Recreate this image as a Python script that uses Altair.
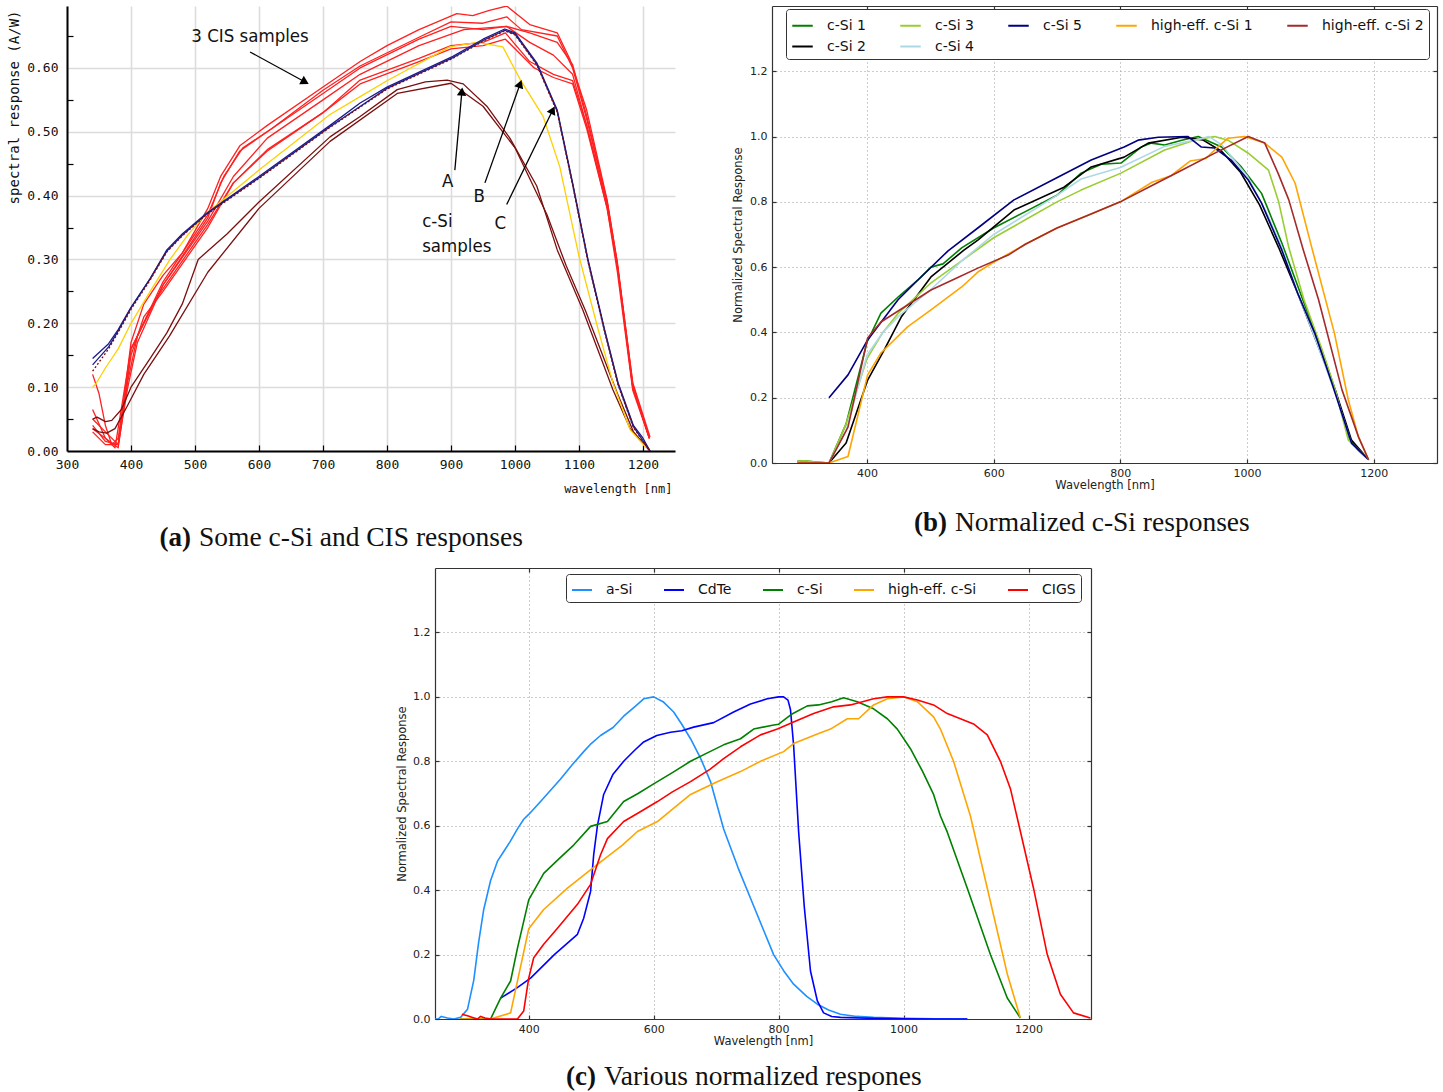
import altair as alt
import pandas as pd

# ======================= panel (a): absolute spectral responses =======================
A_CIS1_WL = [340, 350, 360, 370, 380, 390, 400, 420, 450, 480, 520, 540, 570, 613, 700, 758, 800, 850, 909, 934, 960, 987, 1023, 1066, 1086, 1112, 1144, 1159, 1184, 1211]
A_CIS1_SR = [0.12, 0.09, 0.04, 0.01, 0.02, 0.09, 0.17, 0.23, 0.275, 0.31, 0.38, 0.43, 0.478, 0.51, 0.57, 0.61, 0.635, 0.66, 0.685, 0.682, 0.69, 0.697, 0.668, 0.655, 0.613, 0.534, 0.393, 0.30, 0.107, 0.022]
A_CIS2_WL = [340, 360, 380, 395, 410, 450, 520, 545, 575, 620, 700, 758, 850, 900, 950, 987, 1010, 1066, 1090, 1112, 1144, 1160, 1184, 1210]
A_CIS2_SR = [0.065, 0.02, 0.005, 0.11, 0.18, 0.265, 0.37, 0.43, 0.475, 0.505, 0.565, 0.603, 0.648, 0.672, 0.67, 0.68, 0.66, 0.65, 0.60, 0.52, 0.39, 0.29, 0.10, 0.02]
A_CIS3_WL = [340, 360, 380, 395, 410, 450, 520, 540, 570, 613, 700, 758, 850, 900, 950, 987, 1023, 1060, 1090, 1112, 1144, 1160, 1184, 1210]
A_CIS3_SR = [0.04, 0.015, 0.01, 0.10, 0.17, 0.26, 0.365, 0.42, 0.47, 0.50, 0.56, 0.60, 0.645, 0.665, 0.66, 0.665, 0.64, 0.62, 0.59, 0.51, 0.38, 0.29, 0.10, 0.02]
A_CIS4_WL = [340, 360, 380, 400, 420, 450, 520, 560, 613, 700, 758, 850, 900, 950, 985, 1023, 1060, 1090, 1112, 1144, 1160, 1184, 1210]
A_CIS4_SR = [0.03, 0.01, 0.01, 0.15, 0.21, 0.25, 0.35, 0.42, 0.472, 0.53, 0.581, 0.615, 0.635, 0.64, 0.655, 0.61, 0.59, 0.58, 0.51, 0.385, 0.29, 0.10, 0.02]
A_CIS5_WL = [340, 360, 375, 400, 440, 520, 560, 613, 700, 758, 850, 900, 950, 985, 1000, 1030, 1060, 1090, 1112, 1144, 1160, 1184, 1210]
A_CIS5_SR = [0.035, 0.02, 0.005, 0.16, 0.24, 0.355, 0.42, 0.47, 0.53, 0.575, 0.61, 0.63, 0.635, 0.645, 0.63, 0.60, 0.585, 0.575, 0.505, 0.38, 0.28, 0.095, 0.02]
A_CIS6_WL = [340, 360, 380, 400, 450, 520, 560, 613, 700, 758, 850, 920, 987, 1023, 1066, 1090, 1112, 1144, 1160, 1184, 1210]
A_CIS6_SR = [0.05, 0.03, 0.01, 0.16, 0.26, 0.36, 0.43, 0.49, 0.55, 0.59, 0.635, 0.66, 0.665, 0.655, 0.64, 0.605, 0.525, 0.39, 0.295, 0.105, 0.02]
A_SA1_WL = [340, 347, 360, 370, 385, 400, 430, 456, 480, 505, 550, 600, 711, 758, 816, 860, 894, 919, 956, 992, 1034, 1066, 1106, 1153, 1180, 1211]
A_SA1_SR = [0.05, 0.053, 0.046, 0.048, 0.065, 0.10, 0.145, 0.185, 0.23, 0.30, 0.34, 0.39, 0.492, 0.524, 0.566, 0.578, 0.581, 0.575, 0.54, 0.49, 0.415, 0.315, 0.221, 0.096, 0.035, 0.0]
A_SA2_WL = [340, 350, 362, 375, 394, 420, 460, 520, 600, 711, 816, 900, 950, 1000, 1050, 1080, 1110, 1160, 1185, 1211]
A_SA2_SR = [0.035, 0.03, 0.028, 0.035, 0.07, 0.12, 0.18, 0.28, 0.38, 0.485, 0.56, 0.576, 0.54, 0.475, 0.37, 0.29, 0.22, 0.09, 0.03, 0.0]
A_SB_WL = [340, 345, 360, 380, 400, 430, 461, 490, 519, 600, 711, 758, 800, 898, 941, 981, 1008, 1044, 1070, 1100, 1130, 1153, 1180, 1205]
A_SB_SR = [0.10, 0.105, 0.13, 0.16, 0.20, 0.25, 0.30, 0.34, 0.373, 0.44, 0.527, 0.555, 0.58, 0.633, 0.64, 0.633, 0.582, 0.524, 0.445, 0.305, 0.19, 0.107, 0.033, 0.005]
A_SC1_WL = [340, 365, 380, 400, 430, 456, 480, 519, 600, 711, 758, 800, 903, 950, 984, 1000, 1034, 1066, 1090, 1114, 1140, 1161, 1185, 1200, 1211]
A_SC1_SR = [0.145, 0.168, 0.19, 0.225, 0.27, 0.315, 0.34, 0.373, 0.43, 0.51, 0.545, 0.57, 0.618, 0.645, 0.661, 0.655, 0.608, 0.534, 0.42, 0.30, 0.19, 0.107, 0.04, 0.02, 0.0]
A_SC2_WL = [340, 365, 380, 400, 430, 456, 480, 519, 600, 711, 800, 903, 950, 984, 1000, 1034, 1066, 1090, 1114, 1140, 1161, 1185, 1211]
A_SC2_SR = [0.135, 0.163, 0.188, 0.224, 0.27, 0.313, 0.338, 0.372, 0.428, 0.508, 0.568, 0.616, 0.643, 0.659, 0.653, 0.606, 0.532, 0.418, 0.298, 0.188, 0.105, 0.038, 0.0]
A_SC3_WL = [340, 365, 380, 400, 430, 456, 480, 519, 600, 711, 800, 903, 950, 984, 1000, 1034, 1066, 1090, 1114, 1140, 1161, 1185, 1211]
A_SC3_SR = [0.125, 0.16, 0.186, 0.222, 0.268, 0.312, 0.337, 0.371, 0.427, 0.507, 0.567, 0.615, 0.642, 0.658, 0.652, 0.605, 0.531, 0.417, 0.297, 0.187, 0.104, 0.037, 0.0]

A_SERIES = ["CIS 1", "CIS 2", "CIS 3", "CIS 4", "CIS 5", "CIS 6", "A 1", "A 2", "B", "C 1", "C 2"]
A_COLORS = ["#ff2020", "#ff2020", "#ff2020", "#ff2020", "#ff2020", "#ff2020", "#7a0f0f", "#7a0f0f", "#ffd000", "#1c1c8e", "#1c1c8e"]
A_WIDTHS = [1.3, 1.3, 1.3, 1.3, 1.3, 1.3, 1.8, 1.8, 2.6, 2.0, 1.6]

A_X_TICKS = [300, 400, 500, 600, 700, 800, 900, 1000, 1100, 1200]
A_Y_TICKS = [0.0, 0.1, 0.2, 0.3, 0.4, 0.5, 0.6]
A_Y_MINOR = [0.05, 0.15, 0.25, 0.35, 0.45, 0.55, 0.65]

A_LABELS = ["3 CIS samples", "A", "B", "C", "c-Si", "samples"]
A_LABEL_WL = [586, 895, 944, 977, 855, 855]
A_LABEL_SR = [0.650, 0.423, 0.400, 0.357, 0.360, 0.321]
A_LABEL_ALIGN = ["center", "center", "center", "center", "left", "left"]

A_ARROW_WL = [586, 906, 953, 987]
A_ARROW_SR = [0.625, 0.440, 0.420, 0.386]
A_ARROW_WL2 = [672, 917, 1008, 1059]
A_ARROW_SR2 = [0.578, 0.563, 0.575, 0.534]
A_ARROW_ANGLE = [119, 5, 20, 26]

# ======================= panel (b): normalized c-Si responses =======================
B_CSI1_WL = [290, 300, 320, 340, 367, 400, 422, 450, 480, 501, 520, 550, 600, 650, 700, 738, 770, 801, 833, 849, 870, 897, 923, 960, 991, 1023, 1055, 1090, 1118, 1140, 1160, 1175, 1192]
B_CSI1_NR = [0.005, 0.007, 0.003, 0.0, 0.12, 0.37, 0.459, 0.51, 0.56, 0.60, 0.61, 0.66, 0.72, 0.77, 0.82, 0.888, 0.915, 0.919, 0.968, 0.98, 0.974, 0.989, 1.0, 0.968, 0.907, 0.826, 0.674, 0.49, 0.346, 0.22, 0.08, 0.04, 0.01]
B_CSI2_WL = [340, 367, 401, 427, 454, 501, 553, 575, 632, 711, 754, 806, 844, 897, 930, 960, 990, 1020, 1050, 1080, 1110, 1140, 1165, 1192]
B_CSI2_NR = [0.0, 0.061, 0.254, 0.346, 0.447, 0.57, 0.652, 0.683, 0.775, 0.845, 0.907, 0.937, 0.98, 0.998, 0.99, 0.955, 0.89, 0.79, 0.66, 0.52, 0.37, 0.22, 0.07, 0.01]
B_CSI3_WL = [290, 300, 320, 340, 367, 400, 425, 450, 500, 550, 600, 650, 700, 738, 801, 870, 917, 949, 970, 1002, 1034, 1050, 1066, 1090, 1118, 1140, 1160, 1192]
B_CSI3_NR = [0.005, 0.007, 0.003, 0.0, 0.12, 0.32, 0.40, 0.46, 0.55, 0.62, 0.69, 0.745, 0.80, 0.836, 0.888, 0.959, 0.989, 1.0, 0.989, 0.949, 0.897, 0.80, 0.66, 0.50, 0.35, 0.22, 0.07, 0.01]
B_CSI4_WL = [340, 367, 400, 425, 450, 500, 550, 600, 700, 738, 800, 870, 920, 940, 960, 1000, 1030, 1055, 1080, 1110, 1140, 1165, 1192]
B_CSI4_NR = [0.0, 0.10, 0.33, 0.40, 0.45, 0.53, 0.62, 0.70, 0.82, 0.87, 0.905, 0.97, 0.99, 1.0, 0.975, 0.88, 0.77, 0.66, 0.52, 0.37, 0.21, 0.06, 0.01]
B_CSI5_WL = [340, 370, 401, 449, 480, 528, 577, 632, 702, 754, 806, 828, 860, 907, 928, 949, 975, 1002, 1023, 1055, 1080, 1107, 1134, 1165, 1192]
B_CSI5_NR = [0.20, 0.27, 0.377, 0.50, 0.56, 0.65, 0.723, 0.806, 0.876, 0.928, 0.968, 0.989, 0.998, 1.0, 0.968, 0.965, 0.928, 0.867, 0.796, 0.652, 0.52, 0.398, 0.245, 0.061, 0.01]
B_HE1_WL = [290, 340, 370, 401, 422, 464, 501, 550, 575, 600, 650, 700, 750, 800, 850, 880, 910, 935, 949, 970, 996, 1028, 1055, 1076, 1102, 1138, 1160, 1176, 1192]
B_HE1_NR = [0.0, 0.0, 0.02, 0.27, 0.337, 0.417, 0.469, 0.54, 0.585, 0.615, 0.67, 0.72, 0.76, 0.80, 0.86, 0.88, 0.925, 0.933, 0.959, 0.995, 1.0, 0.98, 0.937, 0.857, 0.662, 0.398, 0.193, 0.08, 0.01]
B_HE2_WL = [290, 340, 370, 401, 422, 464, 501, 540, 575, 623, 650, 700, 750, 800, 850, 900, 950, 1002, 1028, 1049, 1066, 1089, 1113, 1150, 1176, 1192]
B_HE2_NR = [0.0, 0.0, 0.11, 0.383, 0.432, 0.484, 0.53, 0.565, 0.597, 0.637, 0.67, 0.72, 0.76, 0.80, 0.85, 0.90, 0.95, 1.0, 0.98, 0.888, 0.806, 0.652, 0.50, 0.224, 0.08, 0.01]

# legend order arranged so that rows read like the column-major legend of the original
B_ORDER = ["c-Si 1", "c-Si 3", "c-Si 5", "high-eff. c-Si 1", "high-eff. c-Si 2", "c-Si 2", "c-Si 4"]
B_COLORS = ["#008000", "#9acd32", "#000080", "#ffa500", "#a52a2a", "#000000", "#add8e6"]

# ======================= panel (c): various normalized responses =======================
C_ASI_WL = [250, 255, 260, 270, 280, 291, 302, 312, 320, 328, 339, 350, 360, 370, 382, 392, 400, 419, 435, 451, 470, 488, 500, 515, 535, 552, 570, 584, 600, 615, 632, 645, 659, 675, 691, 712, 735, 755, 775, 792, 808, 824, 845, 862, 880, 899, 925, 952, 1000, 1050, 1102]
C_ASI_NR = [0.0, 0.0, 0.008, 0.003, 0.0, 0.005, 0.03, 0.12, 0.24, 0.34, 0.43, 0.49, 0.52, 0.55, 0.59, 0.62, 0.635, 0.675, 0.71, 0.745, 0.79, 0.83, 0.855, 0.88, 0.905, 0.94, 0.97, 0.994, 1.0, 0.985, 0.953, 0.915, 0.87, 0.81, 0.737, 0.59, 0.47, 0.375, 0.28, 0.20, 0.15, 0.108, 0.07, 0.046, 0.028, 0.015, 0.008, 0.005, 0.002, 0.001, 0.0]
C_CDTE_WL = [355, 380, 403, 441, 478, 488, 499, 504, 510, 520, 535, 552, 570, 584, 605, 627, 645, 664, 696, 728, 755, 782, 800, 808, 815, 819, 824, 832, 841, 851, 862, 872, 885, 899, 950, 1000, 1050, 1102]
C_CDTE_NR = [0.065, 0.095, 0.127, 0.20, 0.263, 0.313, 0.396, 0.51, 0.60, 0.697, 0.76, 0.80, 0.835, 0.86, 0.88, 0.89, 0.895, 0.906, 0.92, 0.953, 0.978, 0.994, 1.0, 1.0, 0.99, 0.96, 0.85, 0.582, 0.35, 0.149, 0.056, 0.019, 0.008, 0.005, 0.002, 0.001, 0.0, 0.0]
C_CSI_WL = [290, 300, 339, 355, 371, 382, 400, 424, 450, 472, 499, 526, 552, 575, 600, 630, 659, 690, 712, 739, 760, 790, 800, 820, 846, 864, 885, 904, 926, 952, 974, 990, 1011, 1030, 1048, 1059, 1070, 1102, 1139, 1166, 1187]
C_CSI_NR = [0.0, 0.0, 0.0, 0.065, 0.118, 0.22, 0.37, 0.452, 0.50, 0.54, 0.598, 0.613, 0.675, 0.70, 0.73, 0.765, 0.80, 0.83, 0.851, 0.87, 0.90, 0.912, 0.915, 0.945, 0.972, 0.975, 0.985, 0.997, 0.985, 0.963, 0.932, 0.90, 0.839, 0.77, 0.697, 0.63, 0.58, 0.406, 0.20, 0.065, 0.003]
C_HE_WL = [290, 339, 371, 400, 424, 462, 510, 550, 574, 606, 659, 700, 739, 771, 808, 824, 862, 883, 910, 928, 952, 974, 1000, 1022, 1048, 1059, 1080, 1107, 1134, 1166, 1187]
C_HE_NR = [0.0, 0.0, 0.019, 0.28, 0.34, 0.406, 0.48, 0.54, 0.582, 0.613, 0.697, 0.735, 0.768, 0.80, 0.83, 0.855, 0.885, 0.90, 0.932, 0.932, 0.975, 0.994, 1.0, 0.985, 0.938, 0.90, 0.80, 0.63, 0.406, 0.14, 0.003]
C_CIGS_WL = [293, 302, 310, 318, 323, 330, 340, 360, 382, 392, 400, 408, 424, 446, 478, 499, 515, 526, 552, 580, 606, 630, 659, 690, 712, 739, 771, 798, 824, 856, 888, 915, 952, 974, 1000, 1022, 1048, 1070, 1091, 1112, 1134, 1155, 1171, 1187, 1208, 1230, 1251, 1272, 1299]
C_CIGS_NR = [0.015, 0.01, 0.005, 0.0, 0.008, 0.003, 0.0, 0.0, 0.0, 0.025, 0.127, 0.19, 0.232, 0.282, 0.356, 0.418, 0.51, 0.56, 0.613, 0.645, 0.675, 0.705, 0.737, 0.775, 0.808, 0.845, 0.882, 0.90, 0.922, 0.948, 0.969, 0.975, 0.994, 1.0, 1.0, 0.99, 0.975, 0.948, 0.932, 0.916, 0.882, 0.80, 0.715, 0.582, 0.406, 0.20, 0.077, 0.019, 0.003]

C_ORDER = ["a-Si", "CdTe", "c-Si", "high-eff. c-Si", "CIGS"]
C_COLORS = ["#1e90ff", "#0000ff", "#008000", "#ffa500", "#ff0000"]

NORM_X_TICKS = [400, 600, 800, 1000, 1200]
NORM_Y_TICKS = [0.0, 0.2, 0.4, 0.6, 0.8, 1.0, 1.2]

CAPTIONS_BOLD = ["(a)", "(b)", "(c)"]
CAPTIONS_TEXT = ["Some c-Si and CIS responses", "Normalized c-Si responses", "Various normalized respones"]

# ======================= helpers =======================
MONO = "DejaVu Sans Mono"
SANS = "DejaVu Sans"
SERIF = "Liberation Serif"
NARROW = "Liberation Sans Narrow, DejaVu Sans Condensed, Liberation Sans"


def long_df(pairs, key):
    rows = []
    for name, xs, ys in pairs:
        for i, (x, y) in enumerate(zip(xs, ys)):
            rows.append({key: name, "wl": x, "v": y, "i": i})
    return pd.DataFrame(rows)


def caption(bold, text, x_split, y_base):
    d = pd.DataFrame({"b": [bold], "t": [text]})
    cb = alt.Chart(d).mark_text(font=SERIF, fontSize=27, fontWeight="bold", align="right",
                                baseline="alphabetic", color="#111").encode(
        text="b:N", x=alt.value(x_split - 8), y=alt.value(y_base))
    ct = alt.Chart(d).mark_text(font=SERIF, fontSize=27.5, align="left",
                                baseline="alphabetic", color="#111").encode(
        text="t:N", x=alt.value(x_split), y=alt.value(y_base))
    return [cb, ct]


def tick_layers(xs, ys, xticks, yticks, W, H, size, color, four=True, domain_color="#333"):
    aux = pd.DataFrame({"wl": xs.domain, "v": ys.domain})
    l1 = alt.Chart(aux).mark_point(opacity=0).encode(
        x=alt.X("wl:Q", scale=xs, axis=alt.Axis(orient="top", offset=-H, values=xticks, labels=False,
                                                domain=False, grid=False, tickSize=size, tickColor=color,
                                                tickWidth=1.2, title=None)),
        y=alt.Y("v:Q", scale=ys, axis=alt.Axis(orient="right", offset=-W, values=yticks, labels=False,
                                               domain=False, grid=False, tickSize=size, tickColor=color,
                                               tickWidth=1.2, title=None)))
    out = [l1]
    if four:
        l2 = alt.Chart(aux).mark_point(opacity=0).encode(
            x=alt.X("wl:Q", scale=xs, axis=alt.Axis(orient="bottom", offset=-H, values=xticks, labels=False,
                                                    domain=True, domainColor=domain_color, domainWidth=1.2,
                                                    grid=False, tickSize=size, tickColor=color,
                                                    tickWidth=1.2, title=None)),
            y=alt.Y("v:Q", scale=ys, axis=alt.Axis(orient="left", offset=-W, values=yticks, labels=False,
                                                   domain=True, domainColor=domain_color, domainWidth=1.2,
                                                   grid=False, tickSize=size, tickColor=color,
                                                   tickWidth=1.2, title=None)))
        out.append(l2)
    return out


# ======================= panel (a) =======================
W_A, H_A = 608, 445
xa = alt.Scale(domain=[300, 1250], nice=False, zero=False)
ya = alt.Scale(domain=[0, 0.697], nice=False, zero=False)

df_a = long_df([
    ("CIS 1", A_CIS1_WL, A_CIS1_SR), ("CIS 2", A_CIS2_WL, A_CIS2_SR), ("CIS 3", A_CIS3_WL, A_CIS3_SR),
    ("CIS 4", A_CIS4_WL, A_CIS4_SR), ("CIS 5", A_CIS5_WL, A_CIS5_SR), ("CIS 6", A_CIS6_WL, A_CIS6_SR),
    ("A 1", A_SA1_WL, A_SA1_SR), ("A 2", A_SA2_WL, A_SA2_SR), ("B", A_SB_WL, A_SB_SR),
    ("C 1", A_SC1_WL, A_SC1_SR), ("C 2", A_SC2_WL, A_SC2_SR),
], "sa")
df_c3 = long_df([("C 3", A_SC3_WL, A_SC3_SR)], "sa3")

lines_a = alt.Chart(df_a).mark_line(clip=True, strokeJoin="round").encode(
    x=alt.X("wl:Q", scale=xa, axis=alt.Axis(
        values=A_X_TICKS, format="d", labelFont=MONO, labelFontSize=13, labelColor="#111",
        labelPadding=7, labelFlush=False, ticks=False, tickSize=0,
        domainColor="#000", domainWidth=2, grid=True, gridColor="#dcdcdc", gridWidth=1.6,
        title="wavelength [nm]", titleFont=MONO, titleFontSize=12, titleFontWeight="normal",
        titleColor="#111", titleX=605, titleY=37, titleAlign="right", titleBaseline="middle")),
    y=alt.Y("v:Q", scale=ya, axis=alt.Axis(
        values=A_Y_TICKS, format=".2f", labelFont=MONO, labelFontSize=13, labelColor="#111",
        labelPadding=9, ticks=False, tickSize=0,
        domainColor="#000", domainWidth=2, grid=True, gridColor="#dcdcdc", gridWidth=1.6,
        title="spectral response (A/W)", titleFont=MONO, titleFontSize=14, titleFontWeight="normal",
        titleColor="#111", titleX=-53, titleY=4, titleAlign="right", titleBaseline="middle",
        titleAngle=270)),
    color=alt.Color("sa:N", scale=alt.Scale(domain=A_SERIES, range=A_COLORS), legend=None),
    strokeWidth=alt.StrokeWidth("sa:N", scale=alt.Scale(domain=A_SERIES, range=A_WIDTHS), legend=None),
    order="i:Q",
)
dots_a = alt.Chart(df_c3).mark_line(clip=True, color="#7a0f0f", strokeWidth=1.4, strokeDash=[2, 2]).encode(
    x=alt.X("wl:Q", scale=xa, axis=None), y=alt.Y("v:Q", scale=ya, axis=None), order="i:Q")

lab_df = pd.DataFrame({"t": A_LABELS, "wl": A_LABEL_WL, "v": A_LABEL_SR, "al": A_LABEL_ALIGN})
labels_center = alt.Chart(lab_df[lab_df.al == "center"]).mark_text(
    font=NARROW, fontSize=18.5, color="#111", align="center", baseline="middle").encode(
    x=alt.X("wl:Q", scale=xa, axis=None), y=alt.Y("v:Q", scale=ya, axis=None), text="t:N")
labels_left = alt.Chart(lab_df[lab_df.al == "left"]).mark_text(
    font=NARROW, fontSize=18.5, color="#111", align="left", baseline="middle").encode(
    x=alt.X("wl:Q", scale=xa, axis=None), y=alt.Y("v:Q", scale=ya, axis=None), text="t:N")

arr_df = pd.DataFrame({"wl": A_ARROW_WL, "v": A_ARROW_SR, "wl2": A_ARROW_WL2, "v2": A_ARROW_SR2,
                       "ang": A_ARROW_ANGLE})
arrows = alt.Chart(arr_df).mark_rule(color="#000", strokeWidth=1.3).encode(
    x=alt.X("wl:Q", scale=xa, axis=None), y=alt.Y("v:Q", scale=ya, axis=None), x2="wl2:Q", y2="v2:Q")
heads = alt.Chart(arr_df).mark_point(shape="triangle-up", filled=True, color="#000", size=90, opacity=1).encode(
    x=alt.X("wl2:Q", scale=xa, axis=None), y=alt.Y("v2:Q", scale=ya, axis=None),
    angle=alt.Angle("ang:Q", scale=None))

panel_a = alt.layer(
    lines_a, dots_a, labels_center, labels_left, arrows, heads,
    *tick_layers(xa, ya, A_X_TICKS[1:], A_Y_MINOR, W_A, H_A, 6, "#000", four=False),
    *caption(CAPTIONS_BOLD[0], CAPTIONS_TEXT[0], 199 - 67, 546 - 6),
).resolve_axis(x="independent", y="independent").properties(width=W_A, height=H_A)


# ======================= normalized panels helper =======================
def norm_panel(df, key, order, colors, W, H, legend, cap_bold, cap_text, cap_x, cap_y, ytitle_x):
    xs = alt.Scale(domain=[250, 1300], nice=False, zero=False)
    ys = alt.Scale(domain=[0, 1.4], nice=False, zero=False)
    lines = alt.Chart(df).mark_line(clip=True, strokeWidth=1.6, strokeJoin="round").encode(
        x=alt.X("wl:Q", scale=xs, axis=alt.Axis(
            values=NORM_X_TICKS, format="d", labelFont=SANS, labelFontSize=11, labelColor="#222",
            labelPadding=4, labelFlush=False, ticks=False, tickSize=0,
            domainColor="#333", domainWidth=1.2, grid=True, gridColor="#9a9a9a", gridDash=[1, 3],
            gridWidth=1, title="Wavelength [nm]", titleFont=SANS, titleFontSize=11.5,
            titleFontWeight="normal", titleColor="#222", titleX=W / 2, titleY=22,
            titleAlign="center", titleBaseline="middle")),
        y=alt.Y("v:Q", scale=ys, axis=alt.Axis(
            values=NORM_Y_TICKS, format=".1f", labelFont=SANS, labelFontSize=11, labelColor="#222",
            labelPadding=5, ticks=False, tickSize=0,
            domainColor="#333", domainWidth=1.2, grid=True, gridColor="#9a9a9a", gridDash=[1, 3],
            gridWidth=1, title="Normalized Spectral Response", titleFont=SANS, titleFontSize=11.5,
            titleFontWeight="normal", titleColor="#222", titleX=ytitle_x, titleY=H / 2,
            titleAlign="center", titleBaseline="middle", titleAngle=270)),
        color=alt.Color(f"{key}:N", scale=alt.Scale(domain=order, range=colors), legend=legend),
        order="i:Q",
    )
    return alt.layer(
        lines,
        *tick_layers(xs, ys, NORM_X_TICKS, NORM_Y_TICKS, W, H, 4, "#333"),
        *caption(cap_bold, cap_text, cap_x, cap_y),
    ).resolve_axis(x="independent", y="independent").properties(width=W, height=H)


# ======================= panel (b) =======================
W_B, H_B = 665, 457
df_b = long_df([
    ("c-Si 1", B_CSI1_WL, B_CSI1_NR), ("c-Si 2", B_CSI2_WL, B_CSI2_NR), ("c-Si 3", B_CSI3_WL, B_CSI3_NR),
    ("c-Si 4", B_CSI4_WL, B_CSI4_NR), ("c-Si 5", B_CSI5_WL, B_CSI5_NR),
    ("high-eff. c-Si 1", B_HE1_WL, B_HE1_NR), ("high-eff. c-Si 2", B_HE2_WL, B_HE2_NR),
], "sb")
legend_b = alt.Legend(title=None, orient="none", legendX=14, legendY=3, direction="horizontal", columns=5,
                      symbolType="stroke", symbolSize=420, symbolStrokeWidth=2, labelFont=SANS,
                      labelFontSize=14, labelColor="#111", labelOffset=13, columnPadding=30, rowPadding=2,
                      padding=5, strokeColor="#333", fillColor="#ffffff", cornerRadius=3)
panel_b = norm_panel(df_b, "sb", B_ORDER, B_COLORS, W_B, H_B, legend_b, CAPTIONS_BOLD[1], CAPTIONS_TEXT[1],
                     955 - 772, 531 - 6, -34)

# ======================= panel (c) =======================
W_C, H_C = 656, 451
df_c = long_df([
    ("a-Si", C_ASI_WL, C_ASI_NR), ("CdTe", C_CDTE_WL, C_CDTE_NR), ("c-Si", C_CSI_WL, C_CSI_NR),
    ("high-eff. c-Si", C_HE_WL, C_HE_NR), ("CIGS", C_CIGS_WL, C_CIGS_NR),
], "sc")
legend_c = alt.Legend(title=None, orient="none", legendX=131, legendY=6, direction="horizontal",
                      symbolType="stroke", symbolSize=400, symbolStrokeWidth=2, labelFont=SANS,
                      labelFontSize=14, labelColor="#111", labelOffset=13, columnPadding=27,
                      padding=5, strokeColor="#333", fillColor="#ffffff", cornerRadius=3)
panel_c = norm_panel(df_c, "sc", C_ORDER, C_COLORS, W_C, H_C, legend_c, CAPTIONS_BOLD[2], CAPTIONS_TEXT[2],
                     604 - 435, 1084 - 567, -33)

spacer = alt.Chart(pd.DataFrame({"z": [0]})).mark_point(opacity=0).encode(
    x=alt.value(5), y=alt.value(5)).properties(width=368, height=10)

top = alt.hconcat(panel_a, panel_b, spacing=97, bounds="flush").resolve_scale(
    color="independent", strokeWidth="independent")
bottom = alt.hconcat(spacer, panel_c, spacing=0, bounds="flush").resolve_scale(color="independent")
chart = alt.vconcat(top, bottom, spacing=13, bounds="full").resolve_scale(
    color="independent", strokeWidth="independent"
).properties(
    padding={"left": 7, "top": 3, "right": 0, "bottom": 0}, background="#ffffff"
).configure_view(strokeWidth=0)

chart.save("out.html", embed_options={"renderer": "svg", "actions": False})
